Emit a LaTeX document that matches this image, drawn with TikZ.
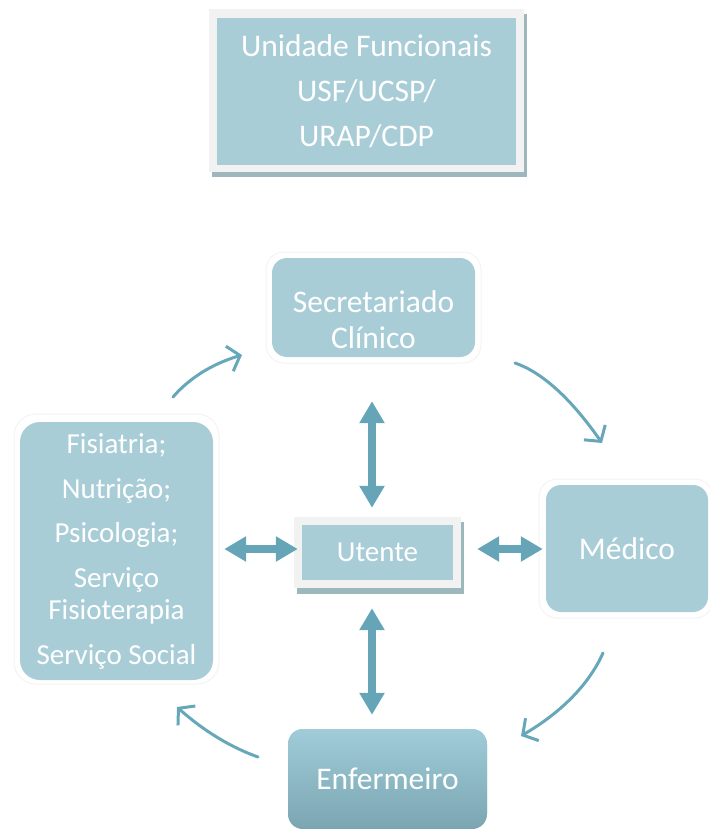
\documentclass[tikz,border=0pt]{standalone}
\usepackage{fontspec}
\setmainfont{Carlito}
\usetikzlibrary{arrows.meta,positioning}
\definecolor{boxfill}{HTML}{A9CDD7}
\definecolor{arrowc}{HTML}{65A5B7}
\definecolor{curvec}{HTML}{66A7B9}
\definecolor{framec}{HTML}{F2F2F2}
\definecolor{shadowc}{HTML}{9DB7BD}
\definecolor{glowc}{HTML}{F3F3F3}
\definecolor{enftop}{HTML}{A0CCD9}
\definecolor{enfbot}{HTML}{7AA5B1}
\tikzset{
  boxtext/.style={text=white, align=center, font=\fontsize{31.5}{36}\selectfont},
  roundbox/.style={fill=boxfill, rounded corners=15pt, inner sep=0pt, boxtext},
  dblarrow/.style={draw=arrowc, line width=8.5pt,
    {Triangle[width=24pt,length=22pt]}-{Triangle[width=24pt,length=22pt]}},
  curvearrow/.style={draw=curvec, line width=3pt, line cap=round,
    -{Straight Barb[length=11pt,width=26pt,line width=3pt]}},
}
\begin{document}
\begin{tikzpicture}[x=1pt,y=-1pt]
\useasboundingbox (0,0) rectangle (709,829);
% top box
\fill[shadowc] (212,14) rectangle (527,177);
\fill[framec] (209,9) rectangle (524,172);
\node[fill=boxfill, minimum width=299pt, minimum height=147pt, inner sep=0pt,
      boxtext, font=\fontsize{31.5}{45}\selectfont] (top) at (366.5,91.5)
  {Unidade Funcionais\\USF/UCSP/\\URAP/CDP};
% faint glow outlines
\draw[glowc, line width=1pt, rounded corners=18pt] (266,252) rectangle (481,363);
\draw[glowc, line width=1pt, rounded corners=18pt] (539,479) rectangle (713,618);
\draw[glowc, line width=1pt, rounded corners=22pt] (14,414) rectangle (219,684);
% rounded boxes
\node[roundbox, minimum width=203pt, minimum height=99pt] (sec) at (373.5,307.5) {};
\node[boxtext] (sectext) at ([yshift=-12pt]sec.center) {Secretariado\\Clínico};
\node[roundbox, minimum width=162pt, minimum height=127pt] (med) at (627,548.5)
  {Médico};
\node[roundbox, rounded corners=20pt, minimum width=193pt, minimum height=258pt,
      font=\fontsize{29}{32}\selectfont] (left) at (116.5,551)
  {Fisiatria;\\[13pt]Nutrição;\\[12pt]Psicologia;\\[13pt]Serviço\\Fisioterapia\\[13pt]Serviço Social};
\node[roundbox, minimum width=199pt, minimum height=100pt,
      top color=enftop, bottom color=enfbot] (enf) at (387.5,779)
  {Enfermeiro};
% utente
\fill[shadowc] (297,522) rectangle (464,594);
\fill[framec] (294,517) rectangle (461,588);
\node[fill=boxfill, minimum width=151pt, minimum height=55pt, inner sep=0pt,
      boxtext, font=\fontsize{29}{34}\selectfont] (ut) at (377.5,552.5) {Utente};
% double arrows
\draw[dblarrow, shorten <=44pt, shorten >=17pt]
  ([xshift=-1.5pt]sec.south) -- ([xshift=-1.5pt]sec.south |- ut.north);
\draw[dblarrow, shorten <=28pt, shorten >=14pt]
  ([xshift=-1.5pt]sec.south |- ut.south) -- ([xshift=-1.5pt]sec.south |- enf.north);
\draw[dblarrow, shorten <=11pt, shorten >=4pt]
  ([yshift=2pt]left.east) -- ([yshift=2pt]left.east -| ut.west);
\draw[dblarrow, shorten <=24pt, shorten >=3pt]
  ([yshift=2pt]left.east -| ut.east) -- ([yshift=2pt]left.east -| med.west);
% curved arrows
\coordinate (c1s) at (173,397); \coordinate (c1e) at (242,355);
\coordinate (c2s) at (515,363); \coordinate (c2e) at (602,443);
\coordinate (c3s) at (603,653); \coordinate (c3e) at (521,736);
\coordinate (c4s) at (258,757); \coordinate (c4e) at (177,707);
\draw[curvearrow] (c1s) .. controls (189.7,377.7) and (212.7,363.7) .. (c1e);
\draw[curvearrow] (c2s) .. controls (542.3,372.3) and (571.3,399) .. (c2e);
\draw[curvearrow] (c3s) .. controls (589,684.3) and (561.7,712) .. (c3e);
\draw[curvearrow] (c4s) .. controls (230,747) and (203,730.3) .. (c4e);
\end{tikzpicture}
\end{document}
